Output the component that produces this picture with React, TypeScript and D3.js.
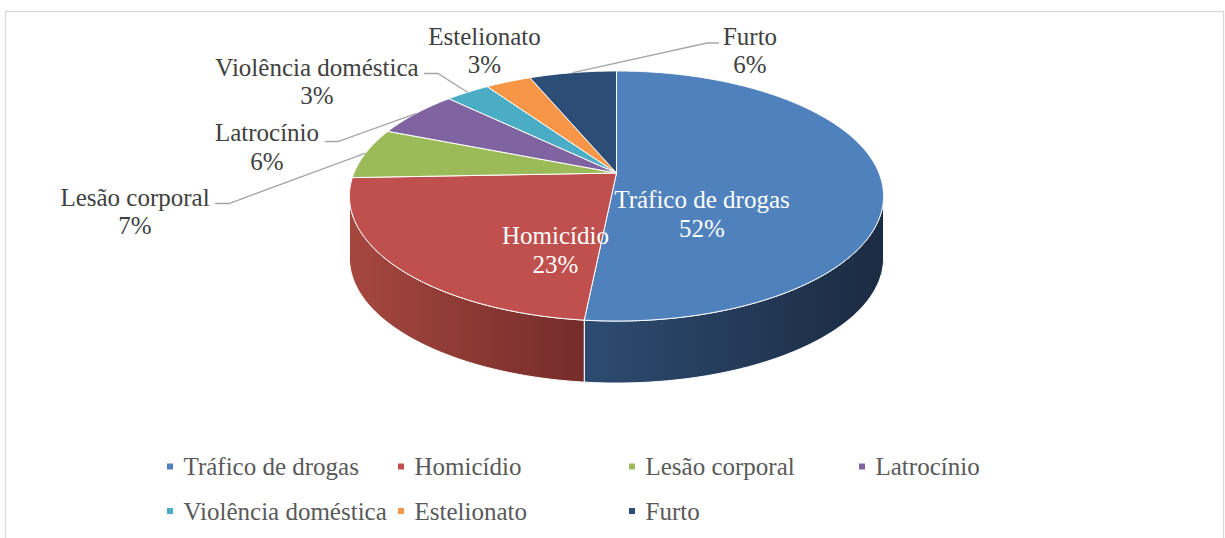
import React from 'react';
import * as d3 from 'd3';

const categories = ['Tráfico de drogas', 'Homicídio', 'Lesão corporal', 'Latrocínio', 'Violência doméstica', 'Estelionato', 'Furto'];
const values = [51.6, 22.8, 6.6, 6.2, 3.2, 3.3, 6.3];
const colors = ['#4F81BD', '#C0504D', '#9BBB59', '#8064A2', '#4BACC6', '#F79646', '#2C4D75'];
const sideColors: Record<number, [string, string]> = {
  0: ['#2D4B71', '#1B2B42'],
  1: ['#A5473F', '#742C2A'],
};

// layout (positions only)
const W = 1225, H = 538;
const CX = 616.5, CY = 173, RX = 262.5, B = 120.8, K = 0.184, DEPTH = 62;
const FONT = "'Liberation Serif', 'Times New Roman', serif";
const FS = 25;

type LabelLayout = { x: number; y1: number; y2: number; fill: string; leader?: [number, number][] };
const labelLayout: LabelLayout[] = [
  { x: 702, y1: 208, y2: 236.5, fill: '#FFFFFF' },
  { x: 555.5, y1: 244, y2: 272.5, fill: '#FFFFFF' },
  { x: 135, y1: 205.5, y2: 233.5, fill: '#404040', leader: [[215, 203.5], [229, 203.5]] },
  { x: 267, y1: 141, y2: 169.5, fill: '#404040', leader: [[325, 141.5], [338, 141.5]] },
  { x: 317, y1: 76, y2: 104, fill: '#404040', leader: [[424, 73.5], [438, 73.5]] },
  { x: 484.5, y1: 45, y2: 73, fill: '#404040' },
  { x: 750, y1: 45, y2: 73, fill: '#404040', leader: [[719, 43], [707, 43]] },
];
const legendCols = [167, 398, 629, 859];
const legendRows = [475, 519.5];

function proj(phi: number, r: number, h: number): [number, number] {
  const X = r * Math.sin(phi);
  const Z = -r * Math.cos(phi);
  const s = 1 / (1 - K * Z);
  return [CX + RX * X * s, CY + B * Z * s + h * DEPTH];
}

function rimPoints(a0: number, a1: number, h: number): [number, number][] {
  const n = Math.max(2, Math.ceil(Math.abs(a1 - a0) / (Math.PI / 360)));
  const pts: [number, number][] = [];
  for (let i = 0; i <= n; i++) pts.push(proj(a0 + (a1 - a0) * (i / n), 1, h));
  return pts;
}

const line = d3.line<[number, number]>();

export default function App() {
  const total = d3.sum(values);
  const pie = d3.pie<number>().sort(null).startAngle(0).endAngle(2 * Math.PI)(values);
  const pct = d3.format('.0%');

  // visible wall range (front of the cylinder)
  const visA = Math.acos(-K); // ~100.6deg
  const visB = 2 * Math.PI - visA;

  const walls: JSX.Element[] = [];
  pie.forEach((p, i) => {
    const a0 = Math.max(p.startAngle, visA);
    const a1 = Math.min(p.endAngle, visB);
    if (a1 <= a0) return;
    const top = rimPoints(a0, a1, 0);
    const bot = rimPoints(a1, a0, 1);
    const d = line([...top, ...bot])! + 'Z';
    const xs = [...top, ...bot].map((q) => q[0]);
    walls.push(
      <g key={'w' + i}>
        <defs>
          <linearGradient id={'wg' + i} gradientUnits="userSpaceOnUse" x1={d3.min(xs)} x2={d3.max(xs)} y1={0} y2={0}>
            <stop offset="0" stopColor={(sideColors[i] || [colors[i], colors[i]])[0]} />
            <stop offset="1" stopColor={(sideColors[i] || [colors[i], colors[i]])[1]} />
          </linearGradient>
        </defs>
        <path d={d} fill={`url(#wg${i})`} stroke="#FFFFFF" strokeWidth={1} strokeLinejoin="round" />
      </g>
    );
  });

  const tops = pie.map((p, i) => {
    const pts = rimPoints(p.startAngle, p.endAngle, 0);
    const d = line([[CX, CY], ...pts])! + 'Z';
    return <path key={'t' + i} d={d} fill={colors[i]} stroke="#FFFFFF" strokeWidth={1} strokeLinejoin="round" />;
  });

  const labels = pie.map((p, i) => {
    const L = labelLayout[i];
    const mid = (p.startAngle + p.endAngle) / 2;
    const end = proj(mid, 1, 0);
    return (
      <g key={'l' + i}>
        {L.leader && (
          <path d={line([...L.leader, end])!} fill="none" stroke="#A6A6A6" strokeWidth={1.3} />
        )}
        <text x={L.x} y={L.y1} textAnchor="middle" fill={L.fill} fontFamily={FONT} fontSize={FS}>
          {categories[i]}
        </text>
        <text x={L.x} y={L.y2} textAnchor="middle" fill={L.fill} fontFamily={FONT} fontSize={FS}>
          {pct(p.data / total)}
        </text>
      </g>
    );
  });

  const legend = categories.map((c, i) => {
    const col = i < 4 ? i : i - 4;
    const row = i < 4 ? 0 : 1;
    const x = legendCols[col];
    const y = legendRows[row];
    return (
      <g key={'lg' + i}>
        <rect x={x} y={y - 11.5} width={6} height={6} fill={colors[i]} />
        <text x={x + 16.5} y={y} fill="#595959" fontFamily={FONT} fontSize={FS}>
          {c}
        </text>
      </g>
    );
  });

  return (
    <svg width={W} height={H} style={{ position: 'absolute', left: 0, top: 0, background: '#FFFFFF' }}>
      <rect x={0} y={0} width={W} height={H} fill="#FFFFFF" />
      <rect x={5.5} y={11.5} width={1218} height={560} fill="#FFFFFF" stroke="#D9D9D9" strokeWidth={1.3} />
      {walls}
      {tops}
      {labels}
      {legend}
    </svg>
  );
}
